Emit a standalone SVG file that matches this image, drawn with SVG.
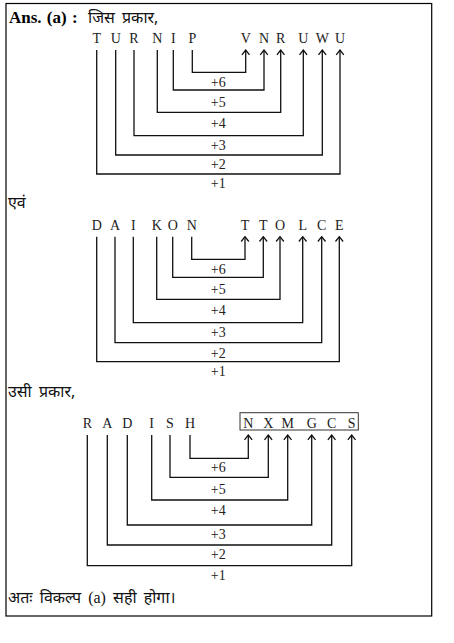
<svg xmlns="http://www.w3.org/2000/svg" width="454" height="643" viewBox="0 0 454 643">
<style>
.t{font-family:"Liberation Serif","Times New Roman",serif;font-size:14px;fill:#222}
.lt{text-anchor:middle}
.h{font-family:"Noto Sans","Noto Sans CJK SC",sans-serif;font-size:16px;word-spacing:3px;fill:#111}
.b{font-family:"Liberation Serif","Times New Roman",serif;font-size:17px;font-weight:bold;word-spacing:1px;fill:#000}
.c{fill:none;stroke:#111;stroke-width:1.3}
</style>
<defs>
<marker id="ar" markerUnits="userSpaceOnUse" markerWidth="10" markerHeight="10" refX="9" refY="5" orient="auto" viewBox="0 0 10 10">
<polyline points="4.2,1.2 9,5 4.2,8.8" fill="none" stroke="#111" stroke-width="1.3"/>
</marker>
</defs>
<rect x="6" y="3.5" width="425.7" height="612.5" fill="#fff" stroke="#000" stroke-width="1.2"/>
<g id="heading">
<text class="b" x="9" y="23">Ans. (a) :</text>
<text class="h" x="88" y="23">जिस प्रकार,</text>
</g>
<g id="row1">
<text class="t lt" x="96.7" y="43">T</text>
<text class="t lt" x="115.7" y="43">U</text>
<text class="t lt" x="134" y="43">R</text>
<text class="t lt" x="157.3" y="43">N</text>
<text class="t lt" x="173.3" y="43">I</text>
<text class="t lt" x="192.3" y="43">P</text>
<text class="t lt" x="245.7" y="43">V</text>
<text class="t lt" x="264" y="43">N</text>
<text class="t lt" x="280.7" y="43">R</text>
<text class="t lt" x="303.3" y="43">U</text>
<text class="t lt" x="322.3" y="43">W</text>
<text class="t lt" x="340" y="43">U</text>
<text class="t lt" x="218.3" y="86.5">+6</text>
<text class="t lt" x="218.3" y="107">+5</text>
<text class="t lt" x="218.3" y="128">+4</text>
<text class="t lt" x="218.3" y="149.5">+3</text>
<text class="t lt" x="218.3" y="168.5">+2</text>
<text class="t lt" x="218.3" y="188">+1</text>
</g>
<g id="mid1">
<text class="h" x="8" y="208">एवं</text>
</g>
<g id="row2">
<text class="t lt" x="96.7" y="229.5">D</text>
<text class="t lt" x="115" y="229.5">A</text>
<text class="t lt" x="133.3" y="229.5">I</text>
<text class="t lt" x="156.7" y="229.5">K</text>
<text class="t lt" x="172.7" y="229.5">O</text>
<text class="t lt" x="191.7" y="229.5">N</text>
<text class="t lt" x="245" y="229.5">T</text>
<text class="t lt" x="263.3" y="229.5">T</text>
<text class="t lt" x="280" y="229.5">O</text>
<text class="t lt" x="302.7" y="229.5">L</text>
<text class="t lt" x="321.7" y="229.5">C</text>
<text class="t lt" x="339.3" y="229.5">E</text>
<text class="t lt" x="218.3" y="273.5">+6</text>
<text class="t lt" x="218.3" y="294">+5</text>
<text class="t lt" x="218.3" y="315">+4</text>
<text class="t lt" x="218.3" y="337">+3</text>
<text class="t lt" x="218.3" y="357.5">+2</text>
<text class="t lt" x="218.3" y="376">+1</text>
</g>
<g id="mid2">
<text class="h" x="8" y="397">उसी प्रकार,</text>
</g>
<g id="row3">
<text class="t lt" x="87.3" y="427.5">R</text>
<text class="t lt" x="107.3" y="427.5">A</text>
<text class="t lt" x="127.3" y="427.5">D</text>
<text class="t lt" x="151.7" y="427.5">I</text>
<text class="t lt" x="170" y="427.5">S</text>
<text class="t lt" x="190" y="427.5">H</text>
<rect x="240" y="412.7" width="118.3" height="17.3" fill="none" stroke="#333" stroke-width="1"/>
<text class="t lt" x="248.3" y="427.5">N</text>
<text class="t lt" x="268.3" y="427.5">X</text>
<text class="t lt" x="287.7" y="427.5">M</text>
<text class="t lt" x="311.7" y="427.5">G</text>
<text class="t lt" x="331.7" y="427.5">C</text>
<text class="t lt" x="351.7" y="427.5">S</text>
<text class="t lt" x="218.3" y="472">+6</text>
<text class="t lt" x="218.3" y="493.5">+5</text>
<text class="t lt" x="218.3" y="515">+4</text>
<text class="t lt" x="218.3" y="538.5">+3</text>
<text class="t lt" x="218.3" y="558.5">+2</text>
<text class="t lt" x="218.3" y="579.5">+1</text>
</g>
<g id="footer">
<text class="h" x="8" y="603">अतः विकल्प <tspan font-family="Liberation Serif, serif">(a)</tspan> सही होगा।</text>
</g>
<g id="connectors">
<path class="c" marker-end="url(#ar)" d="M192.3 50V72.3H245.7V50"/>
<path class="c" marker-end="url(#ar)" d="M173.3 50V90H264V50"/>
<path class="c" marker-end="url(#ar)" d="M157.3 50V112.3H280.7V50"/>
<path class="c" marker-end="url(#ar)" d="M134 50V135.7H303.3V50"/>
<path class="c" marker-end="url(#ar)" d="M115.7 50V155H322.3V50"/>
<path class="c" marker-end="url(#ar)" d="M96.7 50V174H340V50"/>
<path class="c" marker-end="url(#ar)" d="M191.7 236.7V259.3H245V236.7"/>
<path class="c" marker-end="url(#ar)" d="M172.7 236.7V277.3H263.3V236.7"/>
<path class="c" marker-end="url(#ar)" d="M156.7 236.7V299.3H280V236.7"/>
<path class="c" marker-end="url(#ar)" d="M133.3 236.7V322.7H302.7V236.7"/>
<path class="c" marker-end="url(#ar)" d="M115 236.7V342.7H321.7V236.7"/>
<path class="c" marker-end="url(#ar)" d="M96.7 236.7V361.7H339.3V236.7"/>
<path class="c" marker-end="url(#ar)" d="M190 435V458.3H248.3V435"/>
<path class="c" marker-end="url(#ar)" d="M170 435V477.3H268.3V435"/>
<path class="c" marker-end="url(#ar)" d="M151.7 435V500H287.7V435"/>
<path class="c" marker-end="url(#ar)" d="M127.3 435V525H311.7V435"/>
<path class="c" marker-end="url(#ar)" d="M107.3 435V545H331.7V435"/>
<path class="c" marker-end="url(#ar)" d="M87.3 435V565.7H351.7V435"/>
</g>
</svg>
